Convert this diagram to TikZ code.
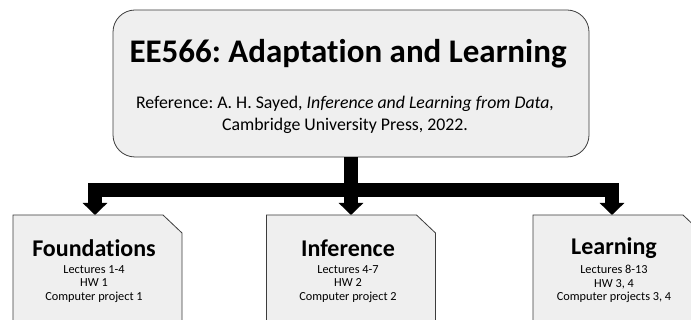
\documentclass[tikz,border=0pt]{standalone}
\usepackage{fontspec}
\setmainfont{Carlito}[Ligatures=NoCommon]
\usetikzlibrary{arrows.meta,positioning}
\definecolor{boxgray}{RGB}{239,239,239}
\definecolor{edgegray}{RGB}{60,60,60}
\frenchspacing

\begin{document}
\begin{tikzpicture}[x=1pt,y=-1pt,
  course/.style={draw=edgegray,fill=boxgray,line width=0.8pt,rounded corners=22pt,
    minimum width=476pt,minimum height=147pt,inner sep=0pt},
  topic/.style={draw=edgegray,fill=boxgray,line width=0.8pt},
  head/.style={font=\fontsize{24}{28}\selectfont\bfseries},
  info/.style={font=\fontsize{12.3}{13.8}\selectfont,align=center},
  bus/.style={line width=14pt,-{Triangle[width=24pt,length=12pt]}}]

\useasboundingbox (0,0) rectangle (691,320);
\clip (0,0) rectangle (691,320);

%Draw Course Box
\node[course] (course) at (351,83.5) {};
\node[font=\fontsize{33}{38}\selectfont\bfseries] (title) at (348,54) {EE566: Adaptation and Learning};
\node[font=\fontsize{17.8}{22.5}\selectfont,align=center] (ref) at (345,115)
  {Reference: A. H. Sayed, \textit{Inference and Learning from Data,}\\Cambridge University Press, 2022.};

%Draw Topic Boxes (cut upper right corner)
\draw[topic] (13,330) -- (13,215) -- (163,215) -- (182,233) -- (182,330);
\draw[topic] (266.5,330) -- (266.5,215) -- (416.5,215) -- (435.5,233) -- (435.5,330);
\draw[topic] (533,330) -- (533,215) -- (683,215) -- (702,233) -- (702,330);
\coordinate (fnd) at (95,215);
\coordinate (inf) at (351,215);
\coordinate (lrn) at (612,215);

%Draw Topic Texts
\node[head] (fndhead) at (94,248) {Foundations};
\node[info] (fndinfo) at (94,284) {Lectures 1-4\\HW 1\\Computer project 1};
\node[head] (infhead) at (348,248) {Inference};
\node[info] (infinfo) at (348,284) {Lectures 4-7\\HW 2\\Computer project 2};
\node[head] (lrnhead) at (614,248) {Learning};
\node[info] (lrninfo) at (614,284) {Lectures 8-13\\HW 3, 4\\Computer projects 3, 4};

%Draw Bus Lines
\draw[bus] (course.south) -- (inf);
\draw[bus] (course.south) -- ++(0,33) -| (fnd);
\draw[bus] (course.south) -- ++(0,33) -| (lrn);

\end{tikzpicture}
\end{document}
